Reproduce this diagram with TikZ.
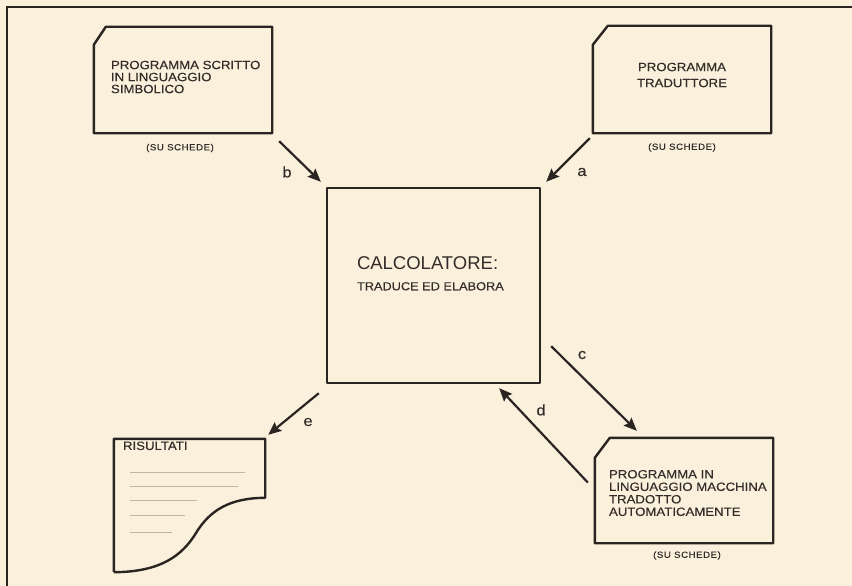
\documentclass[tikz,border=0pt]{standalone}
\usepackage{fontspec}
\setmainfont{Liberation Sans}
\newfontfamily\cardfont[FakeStretch=1.1,FakeBold=0.3]{Liberation Sans}
\usepackage{xcolor}
\usetikzlibrary{arrows.meta,positioning}
\definecolor{paper}{HTML}{FAF0DC}
\definecolor{ink}{HTML}{2B2522}
\definecolor{inkt}{HTML}{332C29}
\definecolor{pencil}{HTML}{BDB3A7}

\begin{document}
\begin{tikzpicture}[x=1pt,y=-1pt, every node/.style={font=\cardfont\fontsize{12}{12}\selectfont,text=inkt,inner sep=0pt}]
\tikzstyle{card}=[rectangle,minimum width=178pt,minimum height=106pt]
\tikzstyle{edge}=[draw=ink,line width=2.4pt,line join=round]
\tikzstyle{flow}=[draw=ink,line width=2.2pt,-{Stealth[length=13pt,width=11pt,inset=2pt]}]
\tikzstyle{lbl}=[font=\cardfont\fontsize{15}{15}\selectfont]
\tikzstyle{note}=[font=\cardfont\fontsize{8.8}{9}\selectfont\addfontfeature{LetterSpace=6}]
\tikzstyle{scrib}=[draw=pencil,line width=0.8pt]

\fill[paper] (0,0) rectangle (852,586);
\useasboundingbox (0,0) rectangle (852,586);
\draw[ink,line width=1.5pt] (7,586) -- (7,7) -- (852,7);

% cards
\node[card] (prog) at (183,80) {};
\node[card,minimum height=107pt] (trad) at (682,79.5) {};
\node[card,minimum height=105pt] (out) at (684,490.5) {};
\node[rectangle,minimum width=151pt,minimum height=133pt] (res) at (189.5,505.5) {};
\node[rectangle,edge,minimum width=213pt,minimum height=195pt] (calcol) at (433.5,285.5) {};

\draw[edge] ([yshift=-18pt]prog.north west) -- ([xshift=12pt]prog.north west) -- (prog.north east) -- (prog.south east) -- (prog.south west) -- cycle;
\draw[edge] ([yshift=-19pt]trad.north west) -- ([xshift=15pt]trad.north west) -- (trad.north east) -- (trad.south east) -- (trad.south west) -- cycle;
\draw[edge] ([yshift=-20pt]out.north west) -- ([xshift=15pt]out.north west) -- (out.north east) -- (out.south east) -- (out.south west) -- cycle;
\draw[edge] (res.south west) -- (res.north west) -- (res.north east) -- ([yshift=-59pt]res.north east)
  .. controls (230,498) and (210,510) .. (196,533)
  .. controls (182,556) and (160,572) .. (res.south west);

% texts
\node[anchor=west,align=left] (progtxt) at ([xshift=17pt,yshift=3pt]prog.west) {PROGRAMMA SCRITTO\\IN LINGUAGGIO\\SIMBOLICO};
\node[align=center] (tradtxt) at ([yshift=4.5pt]trad.center) {PROGRAMMA\\[4pt]TRADUTTORE};
\node[anchor=west,align=left] (outtxt) at ([xshift=14pt,yshift=-2.5pt]out.west) {PROGRAMMA IN\\[0.5pt]LINGUAGGIO MACCHINA\\[0.5pt]TRADOTTO\\[0.5pt]AUTOMATICAMENTE};
\node[anchor=west,align=left] (calctxt) at ([xshift=31pt,yshift=12pt]calcol.west) {{\setmainfont{Liberation Sans}\fontsize{18.5}{20}\selectfont CALCOLATORE:}\\[8.7pt]\fontsize{11.6}{12}\selectfont TRADUCE ED ELABORA};
\node[anchor=west] (restxt) at ([xshift=9pt,yshift=-7pt]res.north west) {RISULTATI};
\foreach \dy/\len in {34/115,48/108,62/67,77/55,94/42}
  \draw[scrib] ([shift={(16,\dy)}]res.north west) -- ++(\len,0);

\node[note,below=10.5pt of prog,xshift=-3pt] (sched1) {(SU SCHEDE)};
\node[note,below=10pt of trad] (sched2) {(SU SCHEDE)};
\node[note,below=8pt of out,xshift=3pt] (sched3) {(SU SCHEDE)};

% connectors
\draw[flow] ([shift={(-3,5)}]trad.south west) -- ([shift={(5,-5)}]calcol.north east);
\draw[flow] ([shift={(7,8)}]prog.south east) -- ([shift={(-5,-5)}]calcol.north west);
\draw[flow] ([shift={(10,-38)}]calcol.south east) -- ([shift={(42,-7)}]out.north west);
\draw[flow] ([shift={(-7,-8)}]out.west) -- ([shift={(-42,4)}]calcol.south east);
\draw[flow] ([shift={(-7,9)}]calcol.south west) -- ([shift={(3,-4)}]res.north east);

\node[lbl] (la) at (582,172) {a};
\node[lbl] (lb) at (287,172) {b};
\node[lbl] (lc) at (582,355) {c};
\node[lbl] (ld) at (541,410) {d};
\node[lbl] (le) at (308,422) {e};
\end{tikzpicture}
\end{document}
